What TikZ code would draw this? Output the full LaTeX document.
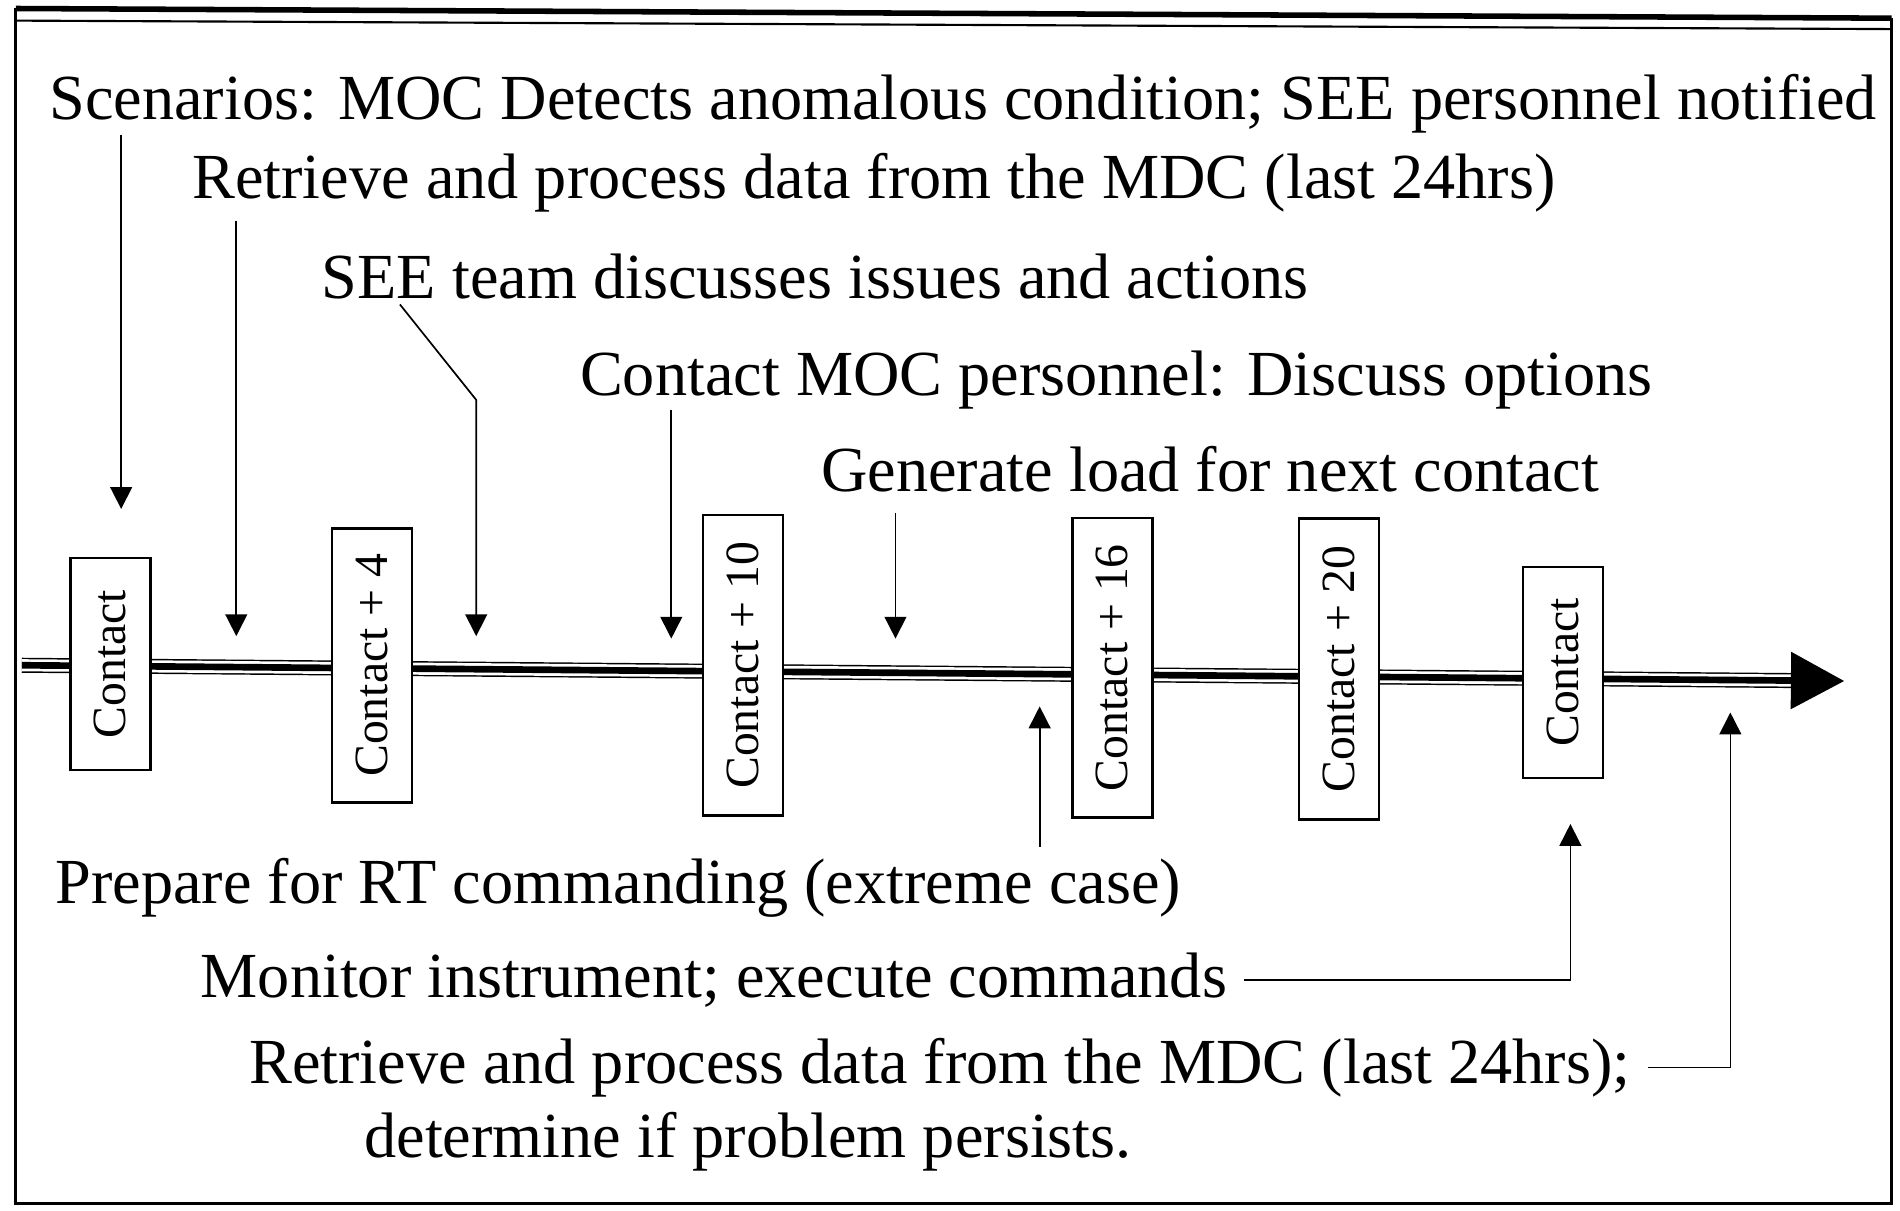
\documentclass[tikz,border=0pt]{standalone}
\usepackage{fontspec}
\setmainfont{Liberation Serif}
\usetikzlibrary{arrows.meta}

\begin{document}
\begin{tikzpicture}[
  x=0.01cm, y=-0.01cm,
  lbl/.style={inner sep=0pt, anchor=base west, font=\fontsize{15.08}{18}\selectfont},
  contact/.style={draw, fill=white, rotate=90, line width=0.6pt, inner sep=0pt, minimum height=0.66cm, font=\fontsize{11.2}{13}\selectfont},
  arr/.style={-{Triangle[length=1.8mm, width=1.8mm]}, line width=0.4pt}
]
  \useasboundingbox (0,0) rectangle (1568,999);

  % frame
  \draw[line width=0.6pt] (13,7) -- (13,993) -- (1561,993) -- (1561,15);
  \draw[line width=1.3pt] (13,7) -- (1561,15);
  \draw[line width=0.5pt] (13,17) -- (1561,24);

  % time line
  \coordinate (tl0) at (18,549);
  \coordinate (tl1) at (1522,562);
  \draw[line width=0.12mm, double distance=1mm, shorten >=4.2mm] (tl0) -- (tl1);
  \draw[line width=0.55mm, -{Triangle[length=4.4mm, width=4.6mm]}] (tl0) -- (tl1);

  % contacts
  \node[contact, minimum width=1.75cm] (c0) at (91,548) {Contact};
  \node[contact, minimum width=2.26cm] (c4) at (307,549) {Contact + 4};
  \node[contact, minimum width=2.48cm] (c10) at (613,549) {Contact + 10};
  \node[contact, minimum width=2.47cm] (c16) at (918,551) {Contact + 16};
  \node[contact, minimum width=2.48cm] (c20) at (1105,552) {Contact + 20};
  \node[contact, minimum width=1.74cm] (c24) at (1290,555) {Contact};

  % activities
  \node[lbl] (scen) at (40,99) {Scenarios: MOC Detects anomalous condition; SEE personnel notified};
  \node[lbl] (retr1) at (158,164) {Retrieve and process data from the MDC (last 24hrs)};
  \node[lbl] (team) at (265,246) {SEE team discusses issues and actions};
  \node[lbl] (moc) at (478,326) {Contact MOC personnel: Discuss options};
  \node[lbl] (load) at (677,406) {Generate load for next contact};
  \node[lbl] (prep) at (45,746) {Prepare for RT commanding (extreme case)};
  \node[lbl] (mon) at (165,823) {Monitor instrument; execute commands};
  \node[lbl] (retr2) at (205,894) {Retrieve and process data from the MDC (last 24hrs);};
  \node[lbl] (persist) at (300,955) {determine if problem persists.};

  \coordinate (tipA) at (100,420);
  \coordinate (tipB) at (195,525);
  \coordinate (bendC) at (393,330);
  \coordinate (tipC) at (393,525);
  \coordinate (tipD) at (554,527);
  \coordinate (tipE) at (739,527);
  \coordinate (tipF) at (858,583);
  \coordinate (tipG) at (1296,680);
  \coordinate (tipH) at (1428,588);

  \draw[arr] (scen.south -| tipA) -- (tipA);
  \draw[arr, shorten <=0.6mm] (retr1.south -| tipB) -- (tipB);
  \draw[arr] ([xshift=0.65cm, yshift=-0.04cm]team.south west) -- (bendC) -- (tipC);
  \draw[arr] (moc.south -| tipD) -- (tipD);
  \draw[arr, shorten <=1.6mm] (load.south -| tipE) -- (tipE);
  \draw[arr, shorten <=0.9mm] (prep.north -| tipF) -- (tipF);
  \draw[arr, shorten <=1.3mm] (mon.east) -| (tipG);
  \draw[arr, shorten <=1.4mm] (retr2.east) -| (tipH);
\end{tikzpicture}
\end{document}
